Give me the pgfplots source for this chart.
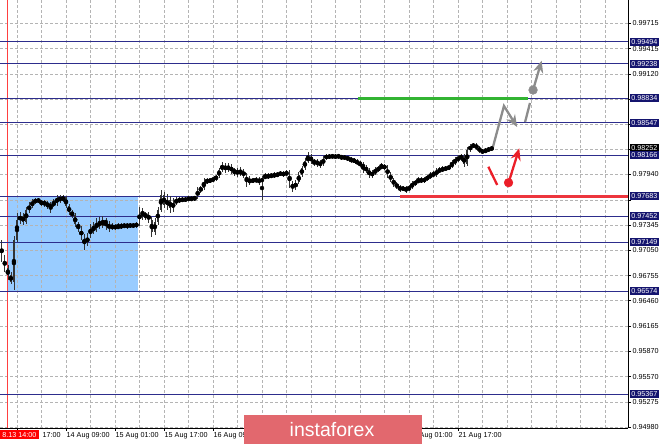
\documentclass[border=0pt]{standalone}
\usepackage{pgfplots}
\pgfplotsset{compat=1.18}
\usepackage{pgfplotstable}
\usetikzlibrary{arrows.meta}
\usepackage{fontspec}
\setmainfont{Liberation Sans}

\definecolor{lvl}{RGB}{45,45,140}
\definecolor{lvlbox}{RGB}{20,20,110}
\definecolor{zone}{RGB}{153,204,255}
\definecolor{gridc}{RGB}{180,180,180}
\definecolor{sigred}{RGB}{235,30,40}
\definecolor{siggray}{RGB}{140,140,140}
\definecolor{banner}{RGB}{226,104,110}
\definecolor{okgreen}{RGB}{50,180,50}

\newcommand\tl{\fontsize{7.2}{8}\selectfont}
% horizontal level across the whole chart
\newcommand\hlvl[1]{\addplot[lvl, line width=0.9pt] coordinates {(-5.55,#1) (199.5,#1)};}
% price box on the right scale
\newcommand\pbox[2][lvlbox]{\node[fill=#1, text=white, anchor=west, inner xsep=1.4pt, inner ysep=1.5pt, font=\tl] at (axis cs:199.5,#2) [xshift=1.8pt] {#2};}

% H1 bars, x = bar index (0 = 13 Aug 17:00)
\pgfplotstableread{
i o h l c
-5 0.97137 0.97172 0.96914 0.96961
-4 0.96961 0.96996 0.96797 0.96844
-3 0.96844 0.96879 0.96703 0.96762
-2 0.96762 0.96797 0.96657 0.96680
-1 0.96680 0.97219 0.96586 0.97172
0 0.97172 0.97489 0.97149 0.97407
1 0.97407 0.97500 0.97360 0.97453
2 0.97453 0.97489 0.97348 0.97383
3 0.97383 0.97559 0.97360 0.97524
4 0.97524 0.97618 0.97489 0.97571
5 0.97571 0.97653 0.97547 0.97618
6 0.97618 0.97664 0.97594 0.97641
7 0.97641 0.97664 0.97606 0.97629
8 0.97629 0.97641 0.97571 0.97594
9 0.97594 0.97641 0.97559 0.97618
10 0.97618 0.97629 0.97536 0.97559
11 0.97559 0.97618 0.97489 0.97582
12 0.97582 0.97653 0.97559 0.97606
13 0.97606 0.97700 0.97571 0.97664
14 0.97664 0.97700 0.97606 0.97641
15 0.97641 0.97700 0.97618 0.97676
16 0.97676 0.97688 0.97547 0.97571
17 0.97571 0.97594 0.97465 0.97500
18 0.97500 0.97524 0.97430 0.97465
19 0.97465 0.97489 0.97325 0.97360
20 0.97360 0.97383 0.97266 0.97313
21 0.97313 0.97336 0.97172 0.97196
22 0.97196 0.97243 0.97055 0.97125
23 0.97125 0.97254 0.97102 0.97219
24 0.97219 0.97360 0.97196 0.97313
25 0.97313 0.97383 0.97243 0.97289
26 0.97289 0.97430 0.97266 0.97383
27 0.97383 0.97442 0.97301 0.97336
28 0.97336 0.97453 0.97313 0.97407
29 0.97407 0.97430 0.97289 0.97360
30 0.97360 0.97395 0.97266 0.97313
31 0.97313 0.97371 0.97289 0.97336
32 0.97336 0.97360 0.97289 0.97313
33 0.97313 0.97371 0.97301 0.97336
34 0.97336 0.97371 0.97301 0.97325
35 0.97325 0.97371 0.97313 0.97348
36 0.97348 0.97371 0.97301 0.97336
37 0.97336 0.97371 0.97313 0.97348
38 0.97348 0.97371 0.97313 0.97336
39 0.97336 0.97383 0.97313 0.97360
40 0.97360 0.97559 0.97336 0.97524
41 0.97524 0.97547 0.97407 0.97453
42 0.97453 0.97500 0.97407 0.97477
43 0.97477 0.97500 0.97371 0.97407
44 0.97407 0.97442 0.97207 0.97266
45 0.97266 0.97430 0.97231 0.97383
46 0.97383 0.97559 0.97348 0.97524
47 0.97524 0.97758 0.97500 0.97700
48 0.97700 0.97735 0.97547 0.97582
49 0.97582 0.97711 0.97524 0.97641
50 0.97641 0.97688 0.97489 0.97547
51 0.97547 0.97664 0.97500 0.97606
52 0.97606 0.97676 0.97582 0.97641
53 0.97641 0.97676 0.97606 0.97629
54 0.97629 0.97676 0.97618 0.97653
55 0.97653 0.97676 0.97618 0.97641
56 0.97641 0.97688 0.97629 0.97664
57 0.97664 0.97676 0.97629 0.97653
58 0.97653 0.97688 0.97629 0.97676
59 0.97676 0.97793 0.97653 0.97758
60 0.97758 0.97805 0.97723 0.97782
61 0.97782 0.97899 0.97758 0.97852
62 0.97852 0.97899 0.97829 0.97864
63 0.97864 0.97899 0.97840 0.97875
64 0.97875 0.97911 0.97852 0.97887
65 0.97887 0.97934 0.97864 0.97922
66 0.97922 0.98016 0.97899 0.97993
67 0.97993 0.98086 0.97969 0.98051
68 0.98051 0.98075 0.97957 0.97993
69 0.97993 0.98075 0.97969 0.98040
70 0.98040 0.98063 0.97946 0.97969
71 0.97969 0.98016 0.97922 0.97993
72 0.97993 0.98016 0.97911 0.97946
73 0.97946 0.98028 0.97922 0.97981
74 0.97981 0.98004 0.97899 0.97922
75 0.97922 0.97957 0.97793 0.97852
76 0.97852 0.97922 0.97817 0.97875
77 0.97875 0.97899 0.97840 0.97864
78 0.97864 0.97911 0.97840 0.97887
79 0.97887 0.97911 0.97817 0.97852
80 0.97852 0.97922 0.97641 0.97899
81 0.97899 0.97957 0.97887 0.97922
82 0.97922 0.97957 0.97887 0.97911
83 0.97911 0.97957 0.97899 0.97934
84 0.97934 0.97969 0.97899 0.97922
85 0.97922 0.97969 0.97911 0.97946
86 0.97946 0.97981 0.97922 0.97957
87 0.97957 0.97981 0.97911 0.97934
88 0.97934 0.97993 0.97922 0.97969
89 0.97969 0.97993 0.97782 0.97829
90 0.97829 0.97864 0.97735 0.97782
91 0.97782 0.97875 0.97758 0.97852
92 0.97852 0.97969 0.97829 0.97934
93 0.97934 0.98040 0.97911 0.98016
94 0.98016 0.98133 0.97993 0.98098
95 0.98098 0.98204 0.98075 0.98145
96 0.98145 0.98180 0.98063 0.98110
97 0.98110 0.98122 0.98040 0.98075
98 0.98075 0.98122 0.98028 0.98086
99 0.98086 0.98110 0.98016 0.98051
100 0.98051 0.98157 0.98040 0.98133
101 0.98133 0.98180 0.98110 0.98157
102 0.98157 0.98180 0.98122 0.98145
103 0.98145 0.98180 0.98133 0.98157
104 0.98157 0.98180 0.98122 0.98145
105 0.98145 0.98180 0.98133 0.98157
106 0.98157 0.98168 0.98110 0.98133
107 0.98133 0.98168 0.98110 0.98145
108 0.98145 0.98157 0.98098 0.98122
109 0.98122 0.98145 0.98075 0.98110
110 0.98110 0.98133 0.98075 0.98098
111 0.98098 0.98122 0.98051 0.98075
112 0.98075 0.98098 0.98028 0.98063
113 0.98063 0.98086 0.97957 0.98016
114 0.98016 0.98051 0.97957 0.97993
115 0.97993 0.98016 0.97899 0.97934
116 0.97934 0.97993 0.97899 0.97957
117 0.97957 0.98028 0.97934 0.97993
118 0.97993 0.98040 0.97969 0.98016
119 0.98016 0.98075 0.98004 0.98040
120 0.98040 0.98063 0.97993 0.98016
121 0.98016 0.98051 0.97899 0.97934
122 0.97934 0.97969 0.97852 0.97875
123 0.97875 0.97899 0.97793 0.97829
124 0.97829 0.97852 0.97770 0.97793
125 0.97793 0.97817 0.97735 0.97770
126 0.97770 0.97805 0.97747 0.97782
127 0.97782 0.97805 0.97723 0.97758
128 0.97758 0.97817 0.97747 0.97793
129 0.97793 0.97864 0.97770 0.97829
130 0.97829 0.97875 0.97805 0.97852
131 0.97852 0.97911 0.97840 0.97875
132 0.97875 0.97911 0.97840 0.97864
133 0.97864 0.97911 0.97840 0.97887
134 0.97887 0.97934 0.97864 0.97911
135 0.97911 0.97969 0.97887 0.97934
136 0.97934 0.97981 0.97911 0.97946
137 0.97946 0.98016 0.97911 0.97981
138 0.97981 0.98028 0.97957 0.97993
139 0.97993 0.98040 0.97969 0.98004
140 0.98004 0.98040 0.97981 0.98016
141 0.98016 0.98051 0.97993 0.98028
142 0.98028 0.98110 0.98016 0.98075
143 0.98075 0.98145 0.98051 0.98110
144 0.98110 0.98168 0.98086 0.98133
145 0.98133 0.98180 0.98098 0.98157
146 0.98157 0.98180 0.98028 0.98063
147 0.98063 0.98262 0.98040 0.98227
148 0.98227 0.98297 0.98204 0.98274
149 0.98274 0.98309 0.98250 0.98286
150 0.98286 0.98309 0.98227 0.98250
151 0.98250 0.98274 0.98192 0.98215
152 0.98215 0.98239 0.98180 0.98204
153 0.98204 0.98250 0.98192 0.98227
154 0.98227 0.98262 0.98204 0.98239
155 0.98239 0.98262 0.98227 0.98252
}\candles

\begin{document}
\begin{tikzpicture}
\begin{axis}[
    set layers,
    at={(0,0)}, anchor=north west,
    scale only axis,
    width=628pt, height=428pt,
    xmin=-5.55, xmax=199.5,
    ymin=0.94969, ymax=0.99985,
    axis x line*=bottom, axis y line*=right,
    axis line style={black, line width=0.8pt},
    clip=false,
    tick align=outside,
    major tick length=3pt, minor tick length=0pt,
    tick style={black, line width=0.6pt},
    xtick={0,16,...,144},
    xticklabels={,14 Aug 09:00,15 Aug 01:00,15 Aug 17:00,16 Aug 09:00,,,,21 Aug 01:00,21 Aug 17:00},
    minor xtick={8,24,40,56,72,88,104,120,136,152,160,168,176,184,192},
    xticklabel style={font=\tl, anchor=north west, inner xsep=0.5pt, inner ysep=1pt},
    ytick={0.99715,0.99415,0.99120,0.98825,0.98530,0.98235,0.97940,0.97640,0.97345,0.97050,0.96755,0.96460,0.96165,0.95870,0.95570,0.95275,0.94980},
    yticklabels={0.99715,0.99415,0.99120,,,,0.97940,,0.97345,0.97050,0.96755,0.96460,0.96165,0.95870,0.95570,0.95275,0.94980},
    yticklabel style={font=\tl, anchor=west, inner xsep=1.5pt},
    grid=both,
    major grid style={gridc, dash pattern=on 2.5pt off 2.5pt, line width=0.6pt},
    minor grid style={gridc, dash pattern=on 2.5pt off 2.5pt, line width=0.6pt},
  ]

  % support zone
  \addplot[on layer=axis background, fill=zone, draw=none]
    coordinates {(-3,0.96574) (39.5,0.96574) (39.5,0.97683) (-3,0.97683)} -- cycle;

  % vertical line 13 Aug 14:00
  \addplot[red!75, line width=0.7pt] coordinates {(-3,0.94969) (-3,0.99985)};

  % levels
  \hlvl{0.99494}
  \hlvl{0.99238}
  \hlvl{0.98834}
  \hlvl{0.98547}
  \hlvl{0.98166}
  \hlvl{0.97683}
  \hlvl{0.97452}
  \hlvl{0.97149}
  \hlvl{0.96574}
  \hlvl{0.95367}

  \addplot[okgreen, line width=2.6pt] coordinates {(111.3,0.98834) (166.9,0.98834)};
  \addplot[sigred!90, line width=2.6pt] coordinates {(125.1,0.97683) (199.5,0.97683)};

  % candles: wicks and bodies
  \addplot[black, only marks, mark=none,
    error bars/.cd, y dir=both, y explicit, error mark=none,
    error bar style={draw=black!80, line width=0.6pt}]
    table[x=i, y expr={(\thisrow{h}+\thisrow{l})/2}, y error expr={(\thisrow{h}-\thisrow{l})/2}] {\candles};
  \addplot[black, only marks, mark=none,
    error bars/.cd, y dir=both, y explicit, error mark=none,
    error bar style={draw=black!80, line width=1.5pt}]
    table[x=i, y expr={(\thisrow{o}+\thisrow{c})/2}, y error expr={abs(\thisrow{c}-\thisrow{o})/2+0.00003}] {\candles};

  % forecast arrows
  \draw[siggray, line width=2.3pt, -{Stealth[length=12pt,width=10pt]}]
    (axis cs:155.4,0.98262) -- (axis cs:159.0,0.98743) -- (axis cs:163.3,0.98497);
  \draw[siggray, line width=2.3pt] (axis cs:165.9,0.98555) -- (axis cs:167.5,0.98778);
  \draw[siggray, line width=2.3pt, -{Stealth[length=12pt,width=10pt]}]
    (axis cs:168.5,0.98930) -- (axis cs:171.3,0.99274);
  \addplot[siggray, only marks, mark=*, mark size=4.4pt] coordinates {(168.5,0.98930)};

  \draw[sigred, line width=2.3pt] (axis cs:153.9,0.98031) -- (axis cs:156.8,0.97817);
  \draw[sigred, line width=2.3pt, -{Stealth[length=12pt,width=10pt]}]
    (axis cs:160.5,0.97844) -- (axis cs:164.0,0.98247);
  \addplot[sigred, only marks, mark=*, mark size=4.4pt] coordinates {(160.5,0.97844)};

  % price boxes on the scale
  \pbox{0.99494}
  \pbox{0.99238}
  \pbox{0.98834}
  \pbox{0.98547}
  \pbox[black]{0.98252}
  \pbox{0.98166}
  \pbox{0.97683}
  \pbox{0.97452}
  \pbox{0.97149}
  \pbox{0.96574}
  \pbox{0.95367}

  % label of the vertical line, and the visible part of the first time label
  \node[fill=red, text=white, font=\tl, anchor=north west, inner xsep=2.2pt, inner ysep=1.8pt]
    at (axis cs:-5.55,0.94969) [yshift=-2.2pt] {8.13 14:00};
  \node[font=\tl, anchor=north west, inner xsep=0.5pt, inner ysep=1pt]
    at (axis cs:8.1,0.94969) [yshift=-3pt] {17:00};
\end{axis}
% watermark banner
\fill[banner] (244pt,-415pt) rectangle (422pt,-444pt);
\node[text=white, font=\fontsize{19.5}{20}\selectfont] at (332pt,-429.5pt) {instaforex};
\pgfresetboundingbox
\path[use as bounding box] (0,0) rectangle (665pt,-446pt);
\end{tikzpicture}
\end{document}
